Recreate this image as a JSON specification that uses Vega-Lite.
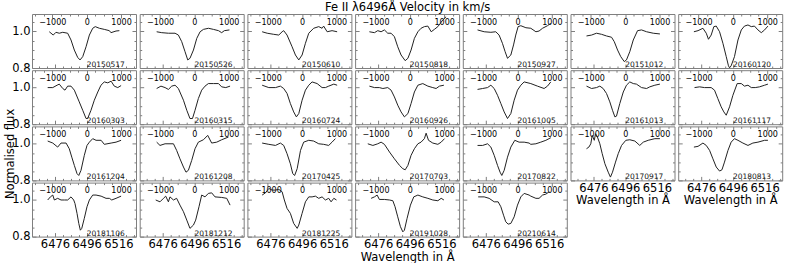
{
"$schema": "https://vega.github.io/schema/vega-lite/v6.json",
"padding": {"left": 3, "top": 1, "right": 0, "bottom": 1},
"columns": 7,
"bounds": "flush",
"spacing": {"row": 2.2, "column": 3.7},
"config": {
 "view": {"stroke": "#7f7f7f", "strokeWidth": 1},
 "font": "DejaVu Sans",
 "text": {"font": "DejaVu Sans"},
 "axis": {"domain": false, "grid": false, "tickColor": "#7f7f7f", "tickWidth": 1, "labelColor": "#000", "titleColor": "#000", "labelFont": "DejaVu Sans", "titleFont": "DejaVu Sans", "titleFontWeight": "normal", "labelOverlap": false, "labelFlush": false, "labelBound": false, "minExtent": 0, "maxExtent": 200},
 "axisBottom": {"labelFontSize": 11.5, "labelPadding": 6, "titleFontSize": 11.5, "titlePadding": -1},
 "axisLeft": {"labelFontSize": 11.5, "labelPadding": 6, "titleFontSize": 11.5, "titlePadding": -3.5},
 "axisTop": {"labelFontSize": 8, "labelPadding": -8, "titleFontSize": 11.5, "titlePadding": 1}
},
"concat": [
{"width":104,"height":54,"layer":[
 {"data":{"values":[{"w":6472.4,"f":0.998},{"w":6474.9,"f":0.980},{"w":6476.6,"f":0.995},{"w":6478.7,"f":0.990},{"w":6480.9,"f":0.995},{"w":6484.0,"f":0.990},{"w":6486.1,"f":0.953},{"w":6488.2,"f":0.898},{"w":6490.3,"f":0.858},{"w":6491.8,"f":0.844},{"w":6493.5,"f":0.862},{"w":6495.6,"f":0.916},{"w":6497.7,"f":0.980},{"w":6499.8,"f":1.017},{"w":6501.4,"f":1.026},{"w":6504.0,"f":1.017},{"w":6507.1,"f":1.011},{"w":6510.3,"f":1.004},{"w":6511.3,"f":0.993},{"w":6514.5,"f":1.002},{"w":6516.6,"f":1.004}]},
  "mark":{"type":"line","color":"#222","strokeWidth":1,"clip":true},
  "encoding":{"x":{"field":"w","type":"quantitative","scale":{"domain":[6461.5,6527.1],"nice":false,"zero":false},"axis":{"orient":"bottom","values":[6466,6471,6476,6481,6486,6491,6496,6501,6506,6511,6516,6521,6526],"tickSize":{"condition":{"test":"(datum.value-6476)%20===0","value":-4},"value":-2},"labels":false,"title":null}},
   "y":{"field":"f","type":"quantitative","scale":{"domain":[0.8,1.095],"nice":false,"zero":false},"axis":{"orient":"left","values":[0.8,0.85,0.9,0.95,1,1.05],"tickSize":{"condition":{"test":"datum.value===0.8||datum.value===1","value":-4},"value":-2},"format":".1f","labelExpr":"datum.value===0.8||datum.value===1 ? datum.label : ''","title":null}}}},
 {"data":{"values":[{"date":"20150517"}]},"mark":{"type":"text","align":"left","baseline":"alphabetic","fontSize":7.5,"color":"#111"},
  "encoding":{"x":{"datum":0,"type":"quantitative","scale":{"domain":[-1592.2,1435.3],"nice":false,"zero":false},"axis":{"orient":"top","values":[-1500,-1250,-1000,-750,-500,-250,0,250,500,750,1000,1250],"tickSize":{"condition":{"test":"datum.value%1000===0","value":-4},"value":-2},"format":"d","labelExpr":"datum.value%1000===0 ? datum.label : ''","title":null}},
   "y":{"datum":0.805,"type":"quantitative","scale":{"domain":[0.8,1.095],"nice":false,"zero":false},"axis":{"orient":"right","values":[0.8,0.85,0.9,0.95,1,1.05],"tickSize":{"condition":{"test":"datum.value===0.8||datum.value===1","value":-4},"value":-2},"labels":false,"title":null}},
   "text":{"field":"date","type":"nominal"}}}
],"resolve":{"scale":{"x":"independent","y":"independent"}}},
{"width":104,"height":54,"layer":[
 {"data":{"values":[{"w":6472.2,"f":0.998},{"w":6475.4,"f":0.993},{"w":6479.6,"f":0.990},{"w":6483.8,"f":0.990},{"w":6485.9,"f":0.980},{"w":6488.0,"f":0.944},{"w":6490.1,"f":0.889},{"w":6491.8,"f":0.844},{"w":6493.2,"f":0.853},{"w":6495.4,"f":0.898},{"w":6497.5,"f":0.962},{"w":6499.6,"f":0.998},{"w":6501.7,"f":1.011},{"w":6504.9,"f":1.017},{"w":6508.0,"f":1.011},{"w":6511.2,"f":1.004},{"w":6513.2,"f":0.993},{"w":6514.9,"f":1.004},{"w":6518.1,"f":1.008}]},
  "mark":{"type":"line","color":"#222","strokeWidth":1,"clip":true},
  "encoding":{"x":{"field":"w","type":"quantitative","scale":{"domain":[6461.5,6527.1],"nice":false,"zero":false},"axis":{"orient":"bottom","values":[6466,6471,6476,6481,6486,6491,6496,6501,6506,6511,6516,6521,6526],"tickSize":{"condition":{"test":"(datum.value-6476)%20===0","value":-4},"value":-2},"labels":false,"title":null}},
   "y":{"field":"f","type":"quantitative","scale":{"domain":[0.8,1.095],"nice":false,"zero":false},"axis":{"orient":"left","values":[0.8,0.85,0.9,0.95,1,1.05],"tickSize":{"condition":{"test":"datum.value===0.8||datum.value===1","value":-4},"value":-2},"labels":false,"title":null}}}},
 {"data":{"values":[{"date":"20150526"}]},"mark":{"type":"text","align":"left","baseline":"alphabetic","fontSize":7.5,"color":"#111"},
  "encoding":{"x":{"datum":0,"type":"quantitative","scale":{"domain":[-1592.2,1435.3],"nice":false,"zero":false},"axis":{"orient":"top","values":[-1500,-1250,-1000,-750,-500,-250,0,250,500,750,1000,1250],"tickSize":{"condition":{"test":"datum.value%1000===0","value":-4},"value":-2},"format":"d","labelExpr":"datum.value%1000===0 ? datum.label : ''","title":null}},
   "y":{"datum":0.805,"type":"quantitative","scale":{"domain":[0.8,1.095],"nice":false,"zero":false},"axis":{"orient":"right","values":[0.8,0.85,0.9,0.95,1,1.05],"tickSize":{"condition":{"test":"datum.value===0.8||datum.value===1","value":-4},"value":-2},"labels":false,"title":null}},
   "text":{"field":"date","type":"nominal"}}}
],"resolve":{"scale":{"x":"independent","y":"independent"}}},
{"width":104,"height":54,"layer":[
 {"data":{"values":[{"w":6470.8,"f":0.998},{"w":6474.0,"f":0.990},{"w":6478.1,"f":0.984},{"w":6481.3,"f":0.980},{"w":6483.4,"f":0.998},{"w":6484.4,"f":1.004},{"w":6486.5,"f":0.980},{"w":6489.7,"f":0.916},{"w":6491.8,"f":0.871},{"w":6493.9,"f":0.844},{"w":6496.0,"f":0.871},{"w":6498.1,"f":0.935},{"w":6500.2,"f":0.990},{"w":6503.3,"f":1.017},{"w":6506.5,"f":1.026},{"w":6508.6,"f":1.017},{"w":6509.6,"f":1.029},{"w":6511.8,"f":0.998},{"w":6514.9,"f":1.004},{"w":6518.1,"f":0.998}]},
  "mark":{"type":"line","color":"#222","strokeWidth":1,"clip":true},
  "encoding":{"x":{"field":"w","type":"quantitative","scale":{"domain":[6461.5,6527.1],"nice":false,"zero":false},"axis":{"orient":"bottom","values":[6466,6471,6476,6481,6486,6491,6496,6501,6506,6511,6516,6521,6526],"tickSize":{"condition":{"test":"(datum.value-6476)%20===0","value":-4},"value":-2},"labels":false,"title":null}},
   "y":{"field":"f","type":"quantitative","scale":{"domain":[0.8,1.095],"nice":false,"zero":false},"axis":{"orient":"left","values":[0.8,0.85,0.9,0.95,1,1.05],"tickSize":{"condition":{"test":"datum.value===0.8||datum.value===1","value":-4},"value":-2},"labels":false,"title":null}}}},
 {"data":{"values":[{"date":"20150610"}]},"mark":{"type":"text","align":"left","baseline":"alphabetic","fontSize":7.5,"color":"#111"},
  "encoding":{"x":{"datum":0,"type":"quantitative","scale":{"domain":[-1592.2,1435.3],"nice":false,"zero":false},"axis":{"orient":"top","values":[-1500,-1250,-1000,-750,-500,-250,0,250,500,750,1000,1250],"tickSize":{"condition":{"test":"datum.value%1000===0","value":-4},"value":-2},"format":"d","labelExpr":"datum.value%1000===0 ? datum.label : ''","title":null}},
   "y":{"datum":0.805,"type":"quantitative","scale":{"domain":[0.8,1.095],"nice":false,"zero":false},"axis":{"orient":"right","values":[0.8,0.85,0.9,0.95,1,1.05],"tickSize":{"condition":{"test":"datum.value===0.8||datum.value===1","value":-4},"value":-2},"labels":false,"title":null}},
   "text":{"field":"date","type":"nominal"}}}
],"resolve":{"scale":{"x":"independent","y":"independent"}}},
{"width":104,"height":54,"layer":[
 {"data":{"values":[{"w":6470.5,"f":0.998},{"w":6473.7,"f":0.993},{"w":6475.8,"f":1.004},{"w":6477.9,"f":0.998},{"w":6480.0,"f":1.008},{"w":6482.1,"f":0.990},{"w":6484.2,"f":0.990},{"w":6486.3,"f":0.971},{"w":6488.4,"f":0.916},{"w":6490.5,"f":0.871},{"w":6493.1,"f":0.840},{"w":6494.8,"f":0.853},{"w":6496.8,"f":0.898},{"w":6498.9,"f":0.962},{"w":6501.1,"f":0.998},{"w":6503.1,"f":1.017},{"w":6505.2,"f":1.026},{"w":6507.4,"f":1.029},{"w":6509.5,"f":0.998},{"w":6511.5,"f":1.011},{"w":6513.7,"f":1.026},{"w":6516.8,"f":1.062},{"w":6518.9,"f":1.080}]},
  "mark":{"type":"line","color":"#222","strokeWidth":1,"clip":true},
  "encoding":{"x":{"field":"w","type":"quantitative","scale":{"domain":[6461.5,6527.1],"nice":false,"zero":false},"axis":{"orient":"bottom","values":[6466,6471,6476,6481,6486,6491,6496,6501,6506,6511,6516,6521,6526],"tickSize":{"condition":{"test":"(datum.value-6476)%20===0","value":-4},"value":-2},"labels":false,"title":null}},
   "y":{"field":"f","type":"quantitative","scale":{"domain":[0.8,1.095],"nice":false,"zero":false},"axis":{"orient":"left","values":[0.8,0.85,0.9,0.95,1,1.05],"tickSize":{"condition":{"test":"datum.value===0.8||datum.value===1","value":-4},"value":-2},"labels":false,"title":null}}}},
 {"data":{"values":[{"date":"20150818"}]},"mark":{"type":"text","align":"left","baseline":"alphabetic","fontSize":7.5,"color":"#111"},
  "encoding":{"x":{"datum":0,"type":"quantitative","scale":{"domain":[-1592.2,1435.3],"nice":false,"zero":false},"axis":{"orient":"top","values":[-1500,-1250,-1000,-750,-500,-250,0,250,500,750,1000,1250],"tickSize":{"condition":{"test":"datum.value%1000===0","value":-4},"value":-2},"format":"d","labelExpr":"datum.value%1000===0 ? datum.label : ''","title":"Fe II λ6496Å  Velocity in km/s"}},
   "y":{"datum":0.805,"type":"quantitative","scale":{"domain":[0.8,1.095],"nice":false,"zero":false},"axis":{"orient":"right","values":[0.8,0.85,0.9,0.95,1,1.05],"tickSize":{"condition":{"test":"datum.value===0.8||datum.value===1","value":-4},"value":-2},"labels":false,"title":null}},
   "text":{"field":"date","type":"nominal"}}}
],"resolve":{"scale":{"x":"independent","y":"independent"}}},
{"width":104,"height":54,"layer":[
 {"data":{"values":[{"w":6470.8,"f":1.008},{"w":6475.0,"f":0.998},{"w":6479.2,"f":0.995},{"w":6482.3,"f":0.998},{"w":6484.4,"f":0.980},{"w":6486.5,"f":0.935},{"w":6488.2,"f":0.889},{"w":6489.7,"f":0.853},{"w":6491.8,"f":0.871},{"w":6493.5,"f":0.926},{"w":6494.9,"f":0.980},{"w":6496.4,"f":1.026},{"w":6498.1,"f":1.031},{"w":6501.3,"f":1.020},{"w":6504.4,"f":1.017},{"w":6507.6,"f":0.998},{"w":6509.6,"f":1.002},{"w":6511.8,"f":1.017},{"w":6514.9,"f":1.031},{"w":6517.0,"f":1.044}]},
  "mark":{"type":"line","color":"#222","strokeWidth":1,"clip":true},
  "encoding":{"x":{"field":"w","type":"quantitative","scale":{"domain":[6461.5,6527.1],"nice":false,"zero":false},"axis":{"orient":"bottom","values":[6466,6471,6476,6481,6486,6491,6496,6501,6506,6511,6516,6521,6526],"tickSize":{"condition":{"test":"(datum.value-6476)%20===0","value":-4},"value":-2},"labels":false,"title":null}},
   "y":{"field":"f","type":"quantitative","scale":{"domain":[0.8,1.095],"nice":false,"zero":false},"axis":{"orient":"left","values":[0.8,0.85,0.9,0.95,1,1.05],"tickSize":{"condition":{"test":"datum.value===0.8||datum.value===1","value":-4},"value":-2},"labels":false,"title":null}}}},
 {"data":{"values":[{"date":"20150927"}]},"mark":{"type":"text","align":"left","baseline":"alphabetic","fontSize":7.5,"color":"#111"},
  "encoding":{"x":{"datum":0,"type":"quantitative","scale":{"domain":[-1592.2,1435.3],"nice":false,"zero":false},"axis":{"orient":"top","values":[-1500,-1250,-1000,-750,-500,-250,0,250,500,750,1000,1250],"tickSize":{"condition":{"test":"datum.value%1000===0","value":-4},"value":-2},"format":"d","labelExpr":"datum.value%1000===0 ? datum.label : ''","title":null}},
   "y":{"datum":0.805,"type":"quantitative","scale":{"domain":[0.8,1.095],"nice":false,"zero":false},"axis":{"orient":"right","values":[0.8,0.85,0.9,0.95,1,1.05],"tickSize":{"condition":{"test":"datum.value===0.8||datum.value===1","value":-4},"value":-2},"labels":false,"title":null}},
   "text":{"field":"date","type":"nominal"}}}
],"resolve":{"scale":{"x":"independent","y":"independent"}}},
{"width":104,"height":54,"layer":[
 {"data":{"values":[{"w":6471.6,"f":0.975},{"w":6474.8,"f":0.980},{"w":6477.9,"f":0.990},{"w":6481.1,"f":0.984},{"w":6484.2,"f":0.975},{"w":6487.4,"f":0.968},{"w":6489.1,"f":0.944},{"w":6491.2,"f":0.898},{"w":6493.2,"f":0.862},{"w":6495.4,"f":0.835},{"w":6496.8,"f":0.844},{"w":6498.9,"f":0.889},{"w":6501.1,"f":0.953},{"w":6503.8,"f":1.004},{"w":6506.3,"f":1.008},{"w":6509.5,"f":0.998},{"w":6513.7,"f":0.990},{"w":6517.9,"f":0.986}]},
  "mark":{"type":"line","color":"#222","strokeWidth":1,"clip":true},
  "encoding":{"x":{"field":"w","type":"quantitative","scale":{"domain":[6461.5,6527.1],"nice":false,"zero":false},"axis":{"orient":"bottom","values":[6466,6471,6476,6481,6486,6491,6496,6501,6506,6511,6516,6521,6526],"tickSize":{"condition":{"test":"(datum.value-6476)%20===0","value":-4},"value":-2},"labels":false,"title":null}},
   "y":{"field":"f","type":"quantitative","scale":{"domain":[0.8,1.095],"nice":false,"zero":false},"axis":{"orient":"left","values":[0.8,0.85,0.9,0.95,1,1.05],"tickSize":{"condition":{"test":"datum.value===0.8||datum.value===1","value":-4},"value":-2},"labels":false,"title":null}}}},
 {"data":{"values":[{"date":"20151012"}]},"mark":{"type":"text","align":"left","baseline":"alphabetic","fontSize":7.5,"color":"#111"},
  "encoding":{"x":{"datum":0,"type":"quantitative","scale":{"domain":[-1592.2,1435.3],"nice":false,"zero":false},"axis":{"orient":"top","values":[-1500,-1250,-1000,-750,-500,-250,0,250,500,750,1000,1250],"tickSize":{"condition":{"test":"datum.value%1000===0","value":-4},"value":-2},"format":"d","labelExpr":"datum.value%1000===0 ? datum.label : ''","title":null}},
   "y":{"datum":0.805,"type":"quantitative","scale":{"domain":[0.8,1.095],"nice":false,"zero":false},"axis":{"orient":"right","values":[0.8,0.85,0.9,0.95,1,1.05],"tickSize":{"condition":{"test":"datum.value===0.8||datum.value===1","value":-4},"value":-2},"labels":false,"title":null}},
   "text":{"field":"date","type":"nominal"}}}
],"resolve":{"scale":{"x":"independent","y":"independent"}}},
{"width":104,"height":54,"layer":[
 {"data":{"values":[{"w":6471.4,"f":0.998},{"w":6474.0,"f":1.004},{"w":6477.1,"f":1.017},{"w":6479.2,"f":0.990},{"w":6480.6,"f":0.957},{"w":6482.3,"f":0.980},{"w":6484.0,"f":1.026},{"w":6485.5,"f":1.029},{"w":6487.6,"f":0.998},{"w":6489.7,"f":0.935},{"w":6491.8,"f":0.862},{"w":6493.2,"f":0.812},{"w":6493.9,"f":0.801},{"w":6494.9,"f":0.812},{"w":6497.0,"f":0.862},{"w":6499.2,"f":0.953},{"w":6501.3,"f":1.008},{"w":6503.3,"f":1.029},{"w":6505.5,"f":1.035},{"w":6507.6,"f":1.026},{"w":6509.6,"f":1.029},{"w":6511.8,"f":1.008},{"w":6513.9,"f":0.993},{"w":6516.0,"f":1.008},{"w":6518.1,"f":1.029}]},
  "mark":{"type":"line","color":"#222","strokeWidth":1,"clip":true},
  "encoding":{"x":{"field":"w","type":"quantitative","scale":{"domain":[6461.5,6527.1],"nice":false,"zero":false},"axis":{"orient":"bottom","values":[6466,6471,6476,6481,6486,6491,6496,6501,6506,6511,6516,6521,6526],"tickSize":{"condition":{"test":"(datum.value-6476)%20===0","value":-4},"value":-2},"labels":false,"title":null}},
   "y":{"field":"f","type":"quantitative","scale":{"domain":[0.8,1.095],"nice":false,"zero":false},"axis":{"orient":"left","values":[0.8,0.85,0.9,0.95,1,1.05],"tickSize":{"condition":{"test":"datum.value===0.8||datum.value===1","value":-4},"value":-2},"labels":false,"title":null}}}},
 {"data":{"values":[{"date":"20160120"}]},"mark":{"type":"text","align":"left","baseline":"alphabetic","fontSize":7.5,"color":"#111"},
  "encoding":{"x":{"datum":0,"type":"quantitative","scale":{"domain":[-1592.2,1435.3],"nice":false,"zero":false},"axis":{"orient":"top","values":[-1500,-1250,-1000,-750,-500,-250,0,250,500,750,1000,1250],"tickSize":{"condition":{"test":"datum.value%1000===0","value":-4},"value":-2},"format":"d","labelExpr":"datum.value%1000===0 ? datum.label : ''","title":null}},
   "y":{"datum":0.805,"type":"quantitative","scale":{"domain":[0.8,1.095],"nice":false,"zero":false},"axis":{"orient":"right","values":[0.8,0.85,0.9,0.95,1,1.05],"tickSize":{"condition":{"test":"datum.value===0.8||datum.value===1","value":-4},"value":-2},"labels":false,"title":null}},
   "text":{"field":"date","type":"nominal"}}}
],"resolve":{"scale":{"x":"independent","y":"independent"}}},
{"width":104,"height":54,"layer":[
 {"data":{"values":[{"w":6471.4,"f":1.0},{"w":6474.6,"f":1.0},{"w":6477.3,"f":1.013},{"w":6478.7,"f":1.019},{"w":6480.9,"f":0.995},{"w":6482.3,"f":0.986},{"w":6484.0,"f":1.008},{"w":6486.1,"f":1.008},{"w":6488.2,"f":0.986},{"w":6491.3,"f":0.922},{"w":6493.5,"f":0.876},{"w":6495.6,"f":0.831},{"w":6496.6,"f":0.831},{"w":6498.7,"f":0.876},{"w":6500.8,"f":0.931},{"w":6503.0,"f":0.976},{"w":6505.0,"f":1.013},{"w":6507.1,"f":1.031},{"w":6509.3,"f":1.026},{"w":6511.4,"f":1.035},{"w":6513.4,"f":1.008},{"w":6515.6,"f":1.0},{"w":6517.7,"f":1.011}]},
  "mark":{"type":"line","color":"#222","strokeWidth":1,"clip":true},
  "encoding":{"x":{"field":"w","type":"quantitative","scale":{"domain":[6461.5,6527.1],"nice":false,"zero":false},"axis":{"orient":"bottom","values":[6466,6471,6476,6481,6486,6491,6496,6501,6506,6511,6516,6521,6526],"tickSize":{"condition":{"test":"(datum.value-6476)%20===0","value":-4},"value":-2},"labels":false,"title":null}},
   "y":{"field":"f","type":"quantitative","scale":{"domain":[0.8,1.095],"nice":false,"zero":false},"axis":{"orient":"left","values":[0.8,0.85,0.9,0.95,1,1.05],"tickSize":{"condition":{"test":"datum.value===0.8||datum.value===1","value":-4},"value":-2},"format":".1f","labelExpr":"datum.value===0.8||datum.value===1 ? datum.label : ''","title":null}}}},
 {"data":{"values":[{"date":"20160303"}]},"mark":{"type":"text","align":"left","baseline":"alphabetic","fontSize":7.5,"color":"#111"},
  "encoding":{"x":{"datum":0,"type":"quantitative","scale":{"domain":[-1592.2,1435.3],"nice":false,"zero":false},"axis":{"orient":"top","values":[-1500,-1250,-1000,-750,-500,-250,0,250,500,750,1000,1250],"tickSize":{"condition":{"test":"datum.value%1000===0","value":-4},"value":-2},"format":"d","labelExpr":"datum.value%1000===0 ? datum.label : ''","title":null}},
   "y":{"datum":0.805,"type":"quantitative","scale":{"domain":[0.8,1.095],"nice":false,"zero":false},"axis":{"orient":"right","values":[0.8,0.85,0.9,0.95,1,1.05],"tickSize":{"condition":{"test":"datum.value===0.8||datum.value===1","value":-4},"value":-2},"labels":false,"title":null}},
   "text":{"field":"date","type":"nominal"}}}
],"resolve":{"scale":{"x":"independent","y":"independent"}}},
{"width":104,"height":54,"layer":[
 {"data":{"values":[{"w":6472.2,"f":0.995},{"w":6474.9,"f":1.008},{"w":6477.5,"f":1.0},{"w":6479.6,"f":0.990},{"w":6481.7,"f":1.008},{"w":6483.8,"f":1.013},{"w":6485.9,"f":0.995},{"w":6489.1,"f":0.931},{"w":6491.2,"f":0.876},{"w":6493.2,"f":0.831},{"w":6494.8,"f":0.831},{"w":6496.4,"f":0.876},{"w":6498.5,"f":0.940},{"w":6500.6,"f":0.986},{"w":6502.7,"f":1.008},{"w":6504.8,"f":1.022},{"w":6508.0,"f":1.022},{"w":6511.2,"f":1.022},{"w":6513.2,"f":1.004},{"w":6515.8,"f":1.0},{"w":6518.5,"f":1.008}]},
  "mark":{"type":"line","color":"#222","strokeWidth":1,"clip":true},
  "encoding":{"x":{"field":"w","type":"quantitative","scale":{"domain":[6461.5,6527.1],"nice":false,"zero":false},"axis":{"orient":"bottom","values":[6466,6471,6476,6481,6486,6491,6496,6501,6506,6511,6516,6521,6526],"tickSize":{"condition":{"test":"(datum.value-6476)%20===0","value":-4},"value":-2},"labels":false,"title":null}},
   "y":{"field":"f","type":"quantitative","scale":{"domain":[0.8,1.095],"nice":false,"zero":false},"axis":{"orient":"left","values":[0.8,0.85,0.9,0.95,1,1.05],"tickSize":{"condition":{"test":"datum.value===0.8||datum.value===1","value":-4},"value":-2},"labels":false,"title":null}}}},
 {"data":{"values":[{"date":"20160315"}]},"mark":{"type":"text","align":"left","baseline":"alphabetic","fontSize":7.5,"color":"#111"},
  "encoding":{"x":{"datum":0,"type":"quantitative","scale":{"domain":[-1592.2,1435.3],"nice":false,"zero":false},"axis":{"orient":"top","values":[-1500,-1250,-1000,-750,-500,-250,0,250,500,750,1000,1250],"tickSize":{"condition":{"test":"datum.value%1000===0","value":-4},"value":-2},"format":"d","labelExpr":"datum.value%1000===0 ? datum.label : ''","title":null}},
   "y":{"datum":0.805,"type":"quantitative","scale":{"domain":[0.8,1.095],"nice":false,"zero":false},"axis":{"orient":"right","values":[0.8,0.85,0.9,0.95,1,1.05],"tickSize":{"condition":{"test":"datum.value===0.8||datum.value===1","value":-4},"value":-2},"labels":false,"title":null}},
   "text":{"field":"date","type":"nominal"}}}
],"resolve":{"scale":{"x":"independent","y":"independent"}}},
{"width":104,"height":54,"layer":[
 {"data":{"values":[{"w":6470.8,"f":1.013},{"w":6475.0,"f":1.0},{"w":6479.2,"f":1.0},{"w":6482.3,"f":1.008},{"w":6484.4,"f":0.995},{"w":6486.5,"f":0.968},{"w":6488.6,"f":0.913},{"w":6490.7,"f":0.867},{"w":6492.4,"f":0.840},{"w":6493.9,"f":0.858},{"w":6496.0,"f":0.931},{"w":6498.1,"f":0.986},{"w":6500.2,"f":1.013},{"w":6502.3,"f":1.031},{"w":6505.5,"f":1.022},{"w":6508.6,"f":1.0},{"w":6510.7,"f":1.0},{"w":6512.8,"f":1.008},{"w":6516.0,"f":1.019},{"w":6518.1,"f":1.013}]},
  "mark":{"type":"line","color":"#222","strokeWidth":1,"clip":true},
  "encoding":{"x":{"field":"w","type":"quantitative","scale":{"domain":[6461.5,6527.1],"nice":false,"zero":false},"axis":{"orient":"bottom","values":[6466,6471,6476,6481,6486,6491,6496,6501,6506,6511,6516,6521,6526],"tickSize":{"condition":{"test":"(datum.value-6476)%20===0","value":-4},"value":-2},"labels":false,"title":null}},
   "y":{"field":"f","type":"quantitative","scale":{"domain":[0.8,1.095],"nice":false,"zero":false},"axis":{"orient":"left","values":[0.8,0.85,0.9,0.95,1,1.05],"tickSize":{"condition":{"test":"datum.value===0.8||datum.value===1","value":-4},"value":-2},"labels":false,"title":null}}}},
 {"data":{"values":[{"date":"20160724"}]},"mark":{"type":"text","align":"left","baseline":"alphabetic","fontSize":7.5,"color":"#111"},
  "encoding":{"x":{"datum":0,"type":"quantitative","scale":{"domain":[-1592.2,1435.3],"nice":false,"zero":false},"axis":{"orient":"top","values":[-1500,-1250,-1000,-750,-500,-250,0,250,500,750,1000,1250],"tickSize":{"condition":{"test":"datum.value%1000===0","value":-4},"value":-2},"format":"d","labelExpr":"datum.value%1000===0 ? datum.label : ''","title":null}},
   "y":{"datum":0.805,"type":"quantitative","scale":{"domain":[0.8,1.095],"nice":false,"zero":false},"axis":{"orient":"right","values":[0.8,0.85,0.9,0.95,1,1.05],"tickSize":{"condition":{"test":"datum.value===0.8||datum.value===1","value":-4},"value":-2},"labels":false,"title":null}},
   "text":{"field":"date","type":"nominal"}}}
],"resolve":{"scale":{"x":"independent","y":"independent"}}},
{"width":104,"height":54,"layer":[
 {"data":{"values":[{"w":6470.5,"f":1.008},{"w":6473.7,"f":1.0},{"w":6476.8,"f":1.0},{"w":6479.0,"f":0.995},{"w":6482.1,"f":1.0},{"w":6484.2,"f":0.986},{"w":6486.3,"f":0.949},{"w":6488.4,"f":0.904},{"w":6490.5,"f":0.867},{"w":6492.6,"f":0.840},{"w":6494.8,"f":0.858},{"w":6496.8,"f":0.913},{"w":6498.9,"f":0.976},{"w":6501.1,"f":1.013},{"w":6504.2,"f":1.022},{"w":6507.4,"f":1.008},{"w":6510.5,"f":1.0},{"w":6512.6,"f":0.995},{"w":6514.7,"f":1.008},{"w":6517.5,"f":1.013}]},
  "mark":{"type":"line","color":"#222","strokeWidth":1,"clip":true},
  "encoding":{"x":{"field":"w","type":"quantitative","scale":{"domain":[6461.5,6527.1],"nice":false,"zero":false},"axis":{"orient":"bottom","values":[6466,6471,6476,6481,6486,6491,6496,6501,6506,6511,6516,6521,6526],"tickSize":{"condition":{"test":"(datum.value-6476)%20===0","value":-4},"value":-2},"labels":false,"title":null}},
   "y":{"field":"f","type":"quantitative","scale":{"domain":[0.8,1.095],"nice":false,"zero":false},"axis":{"orient":"left","values":[0.8,0.85,0.9,0.95,1,1.05],"tickSize":{"condition":{"test":"datum.value===0.8||datum.value===1","value":-4},"value":-2},"labels":false,"title":null}}}},
 {"data":{"values":[{"date":"20160926"}]},"mark":{"type":"text","align":"left","baseline":"alphabetic","fontSize":7.5,"color":"#111"},
  "encoding":{"x":{"datum":0,"type":"quantitative","scale":{"domain":[-1592.2,1435.3],"nice":false,"zero":false},"axis":{"orient":"top","values":[-1500,-1250,-1000,-750,-500,-250,0,250,500,750,1000,1250],"tickSize":{"condition":{"test":"datum.value%1000===0","value":-4},"value":-2},"format":"d","labelExpr":"datum.value%1000===0 ? datum.label : ''","title":null}},
   "y":{"datum":0.805,"type":"quantitative","scale":{"domain":[0.8,1.095],"nice":false,"zero":false},"axis":{"orient":"right","values":[0.8,0.85,0.9,0.95,1,1.05],"tickSize":{"condition":{"test":"datum.value===0.8||datum.value===1","value":-4},"value":-2},"labels":false,"title":null}},
   "text":{"field":"date","type":"nominal"}}}
],"resolve":{"scale":{"x":"independent","y":"independent"}}},
{"width":104,"height":54,"layer":[
 {"data":{"values":[{"w":6470.8,"f":0.990},{"w":6474.0,"f":0.995},{"w":6477.1,"f":1.0},{"w":6479.2,"f":1.013},{"w":6481.3,"f":0.995},{"w":6483.4,"f":0.958},{"w":6485.5,"f":0.913},{"w":6487.6,"f":0.867},{"w":6489.7,"f":0.831},{"w":6491.8,"f":0.858},{"w":6493.9,"f":0.931},{"w":6496.0,"f":0.986},{"w":6498.1,"f":1.013},{"w":6500.2,"f":1.031},{"w":6504.4,"f":1.022},{"w":6508.6,"f":1.008},{"w":6512.8,"f":0.995},{"w":6514.9,"f":1.008},{"w":6517.0,"f":1.031}]},
  "mark":{"type":"line","color":"#222","strokeWidth":1,"clip":true},
  "encoding":{"x":{"field":"w","type":"quantitative","scale":{"domain":[6461.5,6527.1],"nice":false,"zero":false},"axis":{"orient":"bottom","values":[6466,6471,6476,6481,6486,6491,6496,6501,6506,6511,6516,6521,6526],"tickSize":{"condition":{"test":"(datum.value-6476)%20===0","value":-4},"value":-2},"labels":false,"title":null}},
   "y":{"field":"f","type":"quantitative","scale":{"domain":[0.8,1.095],"nice":false,"zero":false},"axis":{"orient":"left","values":[0.8,0.85,0.9,0.95,1,1.05],"tickSize":{"condition":{"test":"datum.value===0.8||datum.value===1","value":-4},"value":-2},"labels":false,"title":null}}}},
 {"data":{"values":[{"date":"20161005"}]},"mark":{"type":"text","align":"left","baseline":"alphabetic","fontSize":7.5,"color":"#111"},
  "encoding":{"x":{"datum":0,"type":"quantitative","scale":{"domain":[-1592.2,1435.3],"nice":false,"zero":false},"axis":{"orient":"top","values":[-1500,-1250,-1000,-750,-500,-250,0,250,500,750,1000,1250],"tickSize":{"condition":{"test":"datum.value%1000===0","value":-4},"value":-2},"format":"d","labelExpr":"datum.value%1000===0 ? datum.label : ''","title":null}},
   "y":{"datum":0.805,"type":"quantitative","scale":{"domain":[0.8,1.095],"nice":false,"zero":false},"axis":{"orient":"right","values":[0.8,0.85,0.9,0.95,1,1.05],"tickSize":{"condition":{"test":"datum.value===0.8||datum.value===1","value":-4},"value":-2},"labels":false,"title":null}},
   "text":{"field":"date","type":"nominal"}}}
],"resolve":{"scale":{"x":"independent","y":"independent"}}},
{"width":104,"height":54,"layer":[
 {"data":{"values":[{"w":6471.6,"f":1.008},{"w":6474.8,"f":0.995},{"w":6477.9,"f":1.0},{"w":6480.0,"f":1.008},{"w":6482.1,"f":0.995},{"w":6484.2,"f":0.968},{"w":6486.3,"f":0.922},{"w":6488.0,"f":0.876},{"w":6489.5,"f":0.840},{"w":6490.5,"f":0.844},{"w":6492.6,"f":0.913},{"w":6494.8,"f":0.976},{"w":6496.8,"f":1.013},{"w":6498.9,"f":1.031},{"w":6501.1,"f":1.022},{"w":6503.1,"f":1.019},{"w":6506.3,"f":1.0},{"w":6509.5,"f":0.995},{"w":6511.5,"f":1.004},{"w":6514.7,"f":1.013},{"w":6517.9,"f":1.019}]},
  "mark":{"type":"line","color":"#222","strokeWidth":1,"clip":true},
  "encoding":{"x":{"field":"w","type":"quantitative","scale":{"domain":[6461.5,6527.1],"nice":false,"zero":false},"axis":{"orient":"bottom","values":[6466,6471,6476,6481,6486,6491,6496,6501,6506,6511,6516,6521,6526],"tickSize":{"condition":{"test":"(datum.value-6476)%20===0","value":-4},"value":-2},"labels":false,"title":null}},
   "y":{"field":"f","type":"quantitative","scale":{"domain":[0.8,1.095],"nice":false,"zero":false},"axis":{"orient":"left","values":[0.8,0.85,0.9,0.95,1,1.05],"tickSize":{"condition":{"test":"datum.value===0.8||datum.value===1","value":-4},"value":-2},"labels":false,"title":null}}}},
 {"data":{"values":[{"date":"20161013"}]},"mark":{"type":"text","align":"left","baseline":"alphabetic","fontSize":7.5,"color":"#111"},
  "encoding":{"x":{"datum":0,"type":"quantitative","scale":{"domain":[-1592.2,1435.3],"nice":false,"zero":false},"axis":{"orient":"top","values":[-1500,-1250,-1000,-750,-500,-250,0,250,500,750,1000,1250],"tickSize":{"condition":{"test":"datum.value%1000===0","value":-4},"value":-2},"format":"d","labelExpr":"datum.value%1000===0 ? datum.label : ''","title":null}},
   "y":{"datum":0.805,"type":"quantitative","scale":{"domain":[0.8,1.095],"nice":false,"zero":false},"axis":{"orient":"right","values":[0.8,0.85,0.9,0.95,1,1.05],"tickSize":{"condition":{"test":"datum.value===0.8||datum.value===1","value":-4},"value":-2},"labels":false,"title":null}},
   "text":{"field":"date","type":"nominal"}}}
],"resolve":{"scale":{"x":"independent","y":"independent"}}},
{"width":104,"height":54,"layer":[
 {"data":{"values":[{"w":6471.8,"f":1.0},{"w":6475.0,"f":1.004},{"w":6478.1,"f":1.0},{"w":6482.3,"f":1.0},{"w":6484.4,"f":0.986},{"w":6486.5,"f":0.940},{"w":6488.6,"f":0.895},{"w":6490.3,"f":0.867},{"w":6491.8,"f":0.849},{"w":6493.9,"f":0.895},{"w":6496.0,"f":0.958},{"w":6498.7,"f":1.022},{"w":6501.3,"f":1.022},{"w":6503.3,"f":1.008},{"w":6505.5,"f":1.013},{"w":6507.6,"f":1.0},{"w":6510.1,"f":1.0},{"w":6512.8,"f":1.004},{"w":6516.0,"f":1.013},{"w":6518.1,"f":1.019}]},
  "mark":{"type":"line","color":"#222","strokeWidth":1,"clip":true},
  "encoding":{"x":{"field":"w","type":"quantitative","scale":{"domain":[6461.5,6527.1],"nice":false,"zero":false},"axis":{"orient":"bottom","values":[6466,6471,6476,6481,6486,6491,6496,6501,6506,6511,6516,6521,6526],"tickSize":{"condition":{"test":"(datum.value-6476)%20===0","value":-4},"value":-2},"labels":false,"title":null}},
   "y":{"field":"f","type":"quantitative","scale":{"domain":[0.8,1.095],"nice":false,"zero":false},"axis":{"orient":"left","values":[0.8,0.85,0.9,0.95,1,1.05],"tickSize":{"condition":{"test":"datum.value===0.8||datum.value===1","value":-4},"value":-2},"labels":false,"title":null}}}},
 {"data":{"values":[{"date":"20161117"}]},"mark":{"type":"text","align":"left","baseline":"alphabetic","fontSize":7.5,"color":"#111"},
  "encoding":{"x":{"datum":0,"type":"quantitative","scale":{"domain":[-1592.2,1435.3],"nice":false,"zero":false},"axis":{"orient":"top","values":[-1500,-1250,-1000,-750,-500,-250,0,250,500,750,1000,1250],"tickSize":{"condition":{"test":"datum.value%1000===0","value":-4},"value":-2},"format":"d","labelExpr":"datum.value%1000===0 ? datum.label : ''","title":null}},
   "y":{"datum":0.805,"type":"quantitative","scale":{"domain":[0.8,1.095],"nice":false,"zero":false},"axis":{"orient":"right","values":[0.8,0.85,0.9,0.95,1,1.05],"tickSize":{"condition":{"test":"datum.value===0.8||datum.value===1","value":-4},"value":-2},"labels":false,"title":null}},
   "text":{"field":"date","type":"nominal"}}}
],"resolve":{"scale":{"x":"independent","y":"independent"}}},
{"width":104,"height":54,"layer":[
 {"data":{"values":[{"w":6471.4,"f":1.015},{"w":6474.6,"f":1.004},{"w":6477.7,"f":0.982},{"w":6479.8,"f":1.004},{"w":6483.0,"f":1.004},{"w":6485.0,"f":0.973},{"w":6486.6,"f":0.927},{"w":6488.2,"f":0.882},{"w":6489.9,"f":0.837},{"w":6491.0,"f":0.827},{"w":6492.4,"f":0.855},{"w":6494.5,"f":0.937},{"w":6496.2,"f":0.991},{"w":6497.7,"f":1.009},{"w":6499.8,"f":1.028},{"w":6501.9,"f":1.019},{"w":6505.1,"f":1.019},{"w":6507.1,"f":0.997},{"w":6511.4,"f":1.004},{"w":6514.5,"f":1.009},{"w":6517.7,"f":1.019}]},
  "mark":{"type":"line","color":"#222","strokeWidth":1,"clip":true},
  "encoding":{"x":{"field":"w","type":"quantitative","scale":{"domain":[6461.5,6527.1],"nice":false,"zero":false},"axis":{"orient":"bottom","values":[6466,6471,6476,6481,6486,6491,6496,6501,6506,6511,6516,6521,6526],"tickSize":{"condition":{"test":"(datum.value-6476)%20===0","value":-4},"value":-2},"labels":false,"title":null}},
   "y":{"field":"f","type":"quantitative","scale":{"domain":[0.8,1.095],"nice":false,"zero":false},"axis":{"orient":"left","values":[0.8,0.85,0.9,0.95,1,1.05],"tickSize":{"condition":{"test":"datum.value===0.8||datum.value===1","value":-4},"value":-2},"format":".1f","labelExpr":"datum.value===0.8||datum.value===1 ? datum.label : ''","title":"Normalised flux"}}}},
 {"data":{"values":[{"date":"20161204"}]},"mark":{"type":"text","align":"left","baseline":"alphabetic","fontSize":7.5,"color":"#111"},
  "encoding":{"x":{"datum":0,"type":"quantitative","scale":{"domain":[-1592.2,1435.3],"nice":false,"zero":false},"axis":{"orient":"top","values":[-1500,-1250,-1000,-750,-500,-250,0,250,500,750,1000,1250],"tickSize":{"condition":{"test":"datum.value%1000===0","value":-4},"value":-2},"format":"d","labelExpr":"datum.value%1000===0 ? datum.label : ''","title":null}},
   "y":{"datum":0.805,"type":"quantitative","scale":{"domain":[0.8,1.095],"nice":false,"zero":false},"axis":{"orient":"right","values":[0.8,0.85,0.9,0.95,1,1.05],"tickSize":{"condition":{"test":"datum.value===0.8||datum.value===1","value":-4},"value":-2},"labels":false,"title":null}},
   "text":{"field":"date","type":"nominal"}}}
],"resolve":{"scale":{"x":"independent","y":"independent"}}},
{"width":104,"height":54,"layer":[
 {"data":{"values":[{"w":6472.2,"f":1.009},{"w":6474.3,"f":0.991},{"w":6477.5,"f":1.0},{"w":6482.8,"f":1.0},{"w":6484.8,"f":0.964},{"w":6486.9,"f":0.918},{"w":6489.1,"f":0.873},{"w":6490.7,"f":0.845},{"w":6492.2,"f":0.855},{"w":6494.3,"f":0.909},{"w":6496.4,"f":0.973},{"w":6498.5,"f":1.009},{"w":6501.7,"f":1.022},{"w":6504.4,"f":1.046},{"w":6506.9,"f":1.004},{"w":6510.1,"f":1.009},{"w":6513.2,"f":1.022},{"w":6517.5,"f":1.037}]},
  "mark":{"type":"line","color":"#222","strokeWidth":1,"clip":true},
  "encoding":{"x":{"field":"w","type":"quantitative","scale":{"domain":[6461.5,6527.1],"nice":false,"zero":false},"axis":{"orient":"bottom","values":[6466,6471,6476,6481,6486,6491,6496,6501,6506,6511,6516,6521,6526],"tickSize":{"condition":{"test":"(datum.value-6476)%20===0","value":-4},"value":-2},"labels":false,"title":null}},
   "y":{"field":"f","type":"quantitative","scale":{"domain":[0.8,1.095],"nice":false,"zero":false},"axis":{"orient":"left","values":[0.8,0.85,0.9,0.95,1,1.05],"tickSize":{"condition":{"test":"datum.value===0.8||datum.value===1","value":-4},"value":-2},"labels":false,"title":null}}}},
 {"data":{"values":[{"date":"20161208"}]},"mark":{"type":"text","align":"left","baseline":"alphabetic","fontSize":7.5,"color":"#111"},
  "encoding":{"x":{"datum":0,"type":"quantitative","scale":{"domain":[-1592.2,1435.3],"nice":false,"zero":false},"axis":{"orient":"top","values":[-1500,-1250,-1000,-750,-500,-250,0,250,500,750,1000,1250],"tickSize":{"condition":{"test":"datum.value%1000===0","value":-4},"value":-2},"format":"d","labelExpr":"datum.value%1000===0 ? datum.label : ''","title":null}},
   "y":{"datum":0.805,"type":"quantitative","scale":{"domain":[0.8,1.095],"nice":false,"zero":false},"axis":{"orient":"right","values":[0.8,0.85,0.9,0.95,1,1.05],"tickSize":{"condition":{"test":"datum.value===0.8||datum.value===1","value":-4},"value":-2},"labels":false,"title":null}},
   "text":{"field":"date","type":"nominal"}}}
],"resolve":{"scale":{"x":"independent","y":"independent"}}},
{"width":104,"height":54,"layer":[
 {"data":{"values":[{"w":6470.8,"f":1.004},{"w":6475.0,"f":0.997},{"w":6479.2,"f":0.991},{"w":6482.3,"f":1.004},{"w":6484.4,"f":0.991},{"w":6486.5,"f":0.946},{"w":6488.6,"f":0.891},{"w":6490.1,"f":0.837},{"w":6491.3,"f":0.827},{"w":6492.9,"f":0.864},{"w":6495.0,"f":0.964},{"w":6497.0,"f":1.009},{"w":6500.2,"f":1.019},{"w":6503.3,"f":1.015},{"w":6506.5,"f":1.0},{"w":6509.6,"f":0.997},{"w":6512.8,"f":0.991},{"w":6514.9,"f":1.009},{"w":6517.0,"f":1.028}]},
  "mark":{"type":"line","color":"#222","strokeWidth":1,"clip":true},
  "encoding":{"x":{"field":"w","type":"quantitative","scale":{"domain":[6461.5,6527.1],"nice":false,"zero":false},"axis":{"orient":"bottom","values":[6466,6471,6476,6481,6486,6491,6496,6501,6506,6511,6516,6521,6526],"tickSize":{"condition":{"test":"(datum.value-6476)%20===0","value":-4},"value":-2},"labels":false,"title":null}},
   "y":{"field":"f","type":"quantitative","scale":{"domain":[0.8,1.095],"nice":false,"zero":false},"axis":{"orient":"left","values":[0.8,0.85,0.9,0.95,1,1.05],"tickSize":{"condition":{"test":"datum.value===0.8||datum.value===1","value":-4},"value":-2},"labels":false,"title":null}}}},
 {"data":{"values":[{"date":"20170425"}]},"mark":{"type":"text","align":"left","baseline":"alphabetic","fontSize":7.5,"color":"#111"},
  "encoding":{"x":{"datum":0,"type":"quantitative","scale":{"domain":[-1592.2,1435.3],"nice":false,"zero":false},"axis":{"orient":"top","values":[-1500,-1250,-1000,-750,-500,-250,0,250,500,750,1000,1250],"tickSize":{"condition":{"test":"datum.value%1000===0","value":-4},"value":-2},"format":"d","labelExpr":"datum.value%1000===0 ? datum.label : ''","title":null}},
   "y":{"datum":0.805,"type":"quantitative","scale":{"domain":[0.8,1.095],"nice":false,"zero":false},"axis":{"orient":"right","values":[0.8,0.85,0.9,0.95,1,1.05],"tickSize":{"condition":{"test":"datum.value===0.8||datum.value===1","value":-4},"value":-2},"labels":false,"title":null}},
   "text":{"field":"date","type":"nominal"}}}
],"resolve":{"scale":{"x":"independent","y":"independent"}}},
{"width":104,"height":54,"layer":[
 {"data":{"values":[{"w":6469.5,"f":1.0},{"w":6472.7,"f":0.991},{"w":6475.8,"f":1.0},{"w":6477.9,"f":1.009},{"w":6480.0,"f":0.997},{"w":6483.2,"f":0.955},{"w":6486.3,"f":0.918},{"w":6489.5,"f":0.882},{"w":6491.6,"f":0.864},{"w":6493.1,"f":0.858},{"w":6494.8,"f":0.882},{"w":6496.8,"f":0.937},{"w":6498.9,"f":0.973},{"w":6501.1,"f":1.0},{"w":6503.1,"f":1.009},{"w":6505.2,"f":1.028},{"w":6506.3,"f":1.058},{"w":6507.8,"f":1.019},{"w":6510.5,"f":1.004},{"w":6513.7,"f":0.997},{"w":6515.8,"f":1.009},{"w":6517.9,"f":1.028}]},
  "mark":{"type":"line","color":"#222","strokeWidth":1,"clip":true},
  "encoding":{"x":{"field":"w","type":"quantitative","scale":{"domain":[6461.5,6527.1],"nice":false,"zero":false},"axis":{"orient":"bottom","values":[6466,6471,6476,6481,6486,6491,6496,6501,6506,6511,6516,6521,6526],"tickSize":{"condition":{"test":"(datum.value-6476)%20===0","value":-4},"value":-2},"labels":false,"title":null}},
   "y":{"field":"f","type":"quantitative","scale":{"domain":[0.8,1.095],"nice":false,"zero":false},"axis":{"orient":"left","values":[0.8,0.85,0.9,0.95,1,1.05],"tickSize":{"condition":{"test":"datum.value===0.8||datum.value===1","value":-4},"value":-2},"labels":false,"title":null}}}},
 {"data":{"values":[{"date":"20170703"}]},"mark":{"type":"text","align":"left","baseline":"alphabetic","fontSize":7.5,"color":"#111"},
  "encoding":{"x":{"datum":0,"type":"quantitative","scale":{"domain":[-1592.2,1435.3],"nice":false,"zero":false},"axis":{"orient":"top","values":[-1500,-1250,-1000,-750,-500,-250,0,250,500,750,1000,1250],"tickSize":{"condition":{"test":"datum.value%1000===0","value":-4},"value":-2},"format":"d","labelExpr":"datum.value%1000===0 ? datum.label : ''","title":null}},
   "y":{"datum":0.805,"type":"quantitative","scale":{"domain":[0.8,1.095],"nice":false,"zero":false},"axis":{"orient":"right","values":[0.8,0.85,0.9,0.95,1,1.05],"tickSize":{"condition":{"test":"datum.value===0.8||datum.value===1","value":-4},"value":-2},"labels":false,"title":null}},
   "text":{"field":"date","type":"nominal"}}}
],"resolve":{"scale":{"x":"independent","y":"independent"}}},
{"width":104,"height":54,"layer":[
 {"data":{"values":[{"w":6470.8,"f":0.991},{"w":6474.0,"f":0.991},{"w":6477.1,"f":1.0},{"w":6479.2,"f":0.982},{"w":6481.3,"f":0.937},{"w":6483.4,"f":0.882},{"w":6485.0,"f":0.845},{"w":6486.1,"f":0.827},{"w":6487.6,"f":0.855},{"w":6489.7,"f":0.927},{"w":6491.8,"f":0.982},{"w":6494.3,"f":1.019},{"w":6497.0,"f":1.009},{"w":6500.2,"f":1.009},{"w":6503.3,"f":1.004},{"w":6504.4,"f":0.997},{"w":6507.6,"f":1.0},{"w":6510.7,"f":1.009},{"w":6513.9,"f":1.019},{"w":6517.0,"f":1.033}]},
  "mark":{"type":"line","color":"#222","strokeWidth":1,"clip":true},
  "encoding":{"x":{"field":"w","type":"quantitative","scale":{"domain":[6461.5,6527.1],"nice":false,"zero":false},"axis":{"orient":"bottom","values":[6466,6471,6476,6481,6486,6491,6496,6501,6506,6511,6516,6521,6526],"tickSize":{"condition":{"test":"(datum.value-6476)%20===0","value":-4},"value":-2},"labels":false,"title":null}},
   "y":{"field":"f","type":"quantitative","scale":{"domain":[0.8,1.095],"nice":false,"zero":false},"axis":{"orient":"left","values":[0.8,0.85,0.9,0.95,1,1.05],"tickSize":{"condition":{"test":"datum.value===0.8||datum.value===1","value":-4},"value":-2},"labels":false,"title":null}}}},
 {"data":{"values":[{"date":"20170822"}]},"mark":{"type":"text","align":"left","baseline":"alphabetic","fontSize":7.5,"color":"#111"},
  "encoding":{"x":{"datum":0,"type":"quantitative","scale":{"domain":[-1592.2,1435.3],"nice":false,"zero":false},"axis":{"orient":"top","values":[-1500,-1250,-1000,-750,-500,-250,0,250,500,750,1000,1250],"tickSize":{"condition":{"test":"datum.value%1000===0","value":-4},"value":-2},"format":"d","labelExpr":"datum.value%1000===0 ? datum.label : ''","title":null}},
   "y":{"datum":0.805,"type":"quantitative","scale":{"domain":[0.8,1.095],"nice":false,"zero":false},"axis":{"orient":"right","values":[0.8,0.85,0.9,0.95,1,1.05],"tickSize":{"condition":{"test":"datum.value===0.8||datum.value===1","value":-4},"value":-2},"labels":false,"title":null}},
   "text":{"field":"date","type":"nominal"}}}
],"resolve":{"scale":{"x":"independent","y":"independent"}}},
{"width":104,"height":54,"layer":[
 {"data":{"values":[{"w":6471.6,"f":0.973},{"w":6473.1,"f":0.982},{"w":6474.3,"f":1.0},{"w":6475.2,"f":1.046},{"w":6476.5,"f":1.019},{"w":6477.3,"f":1.055},{"w":6478.5,"f":1.037},{"w":6480.0,"f":1.0},{"w":6481.5,"f":0.946},{"w":6483.2,"f":0.891},{"w":6485.3,"f":0.845},{"w":6486.7,"f":0.818},{"w":6488.0,"f":0.845},{"w":6489.9,"f":0.900},{"w":6491.6,"f":0.946},{"w":6493.7,"f":0.991},{"w":6496.4,"f":1.019},{"w":6498.9,"f":1.022},{"w":6502.1,"f":1.015},{"w":6505.2,"f":0.991},{"w":6507.4,"f":1.009},{"w":6510.5,"f":1.019},{"w":6514.7,"f":1.028},{"w":6517.9,"f":1.028}]},
  "mark":{"type":"line","color":"#222","strokeWidth":1,"clip":true},
  "encoding":{"x":{"field":"w","type":"quantitative","scale":{"domain":[6461.5,6527.1],"nice":false,"zero":false},"axis":{"orient":"bottom","values":[6466,6471,6476,6481,6486,6491,6496,6501,6506,6511,6516,6521,6526],"tickSize":{"condition":{"test":"(datum.value-6476)%20===0","value":-4},"value":-2},"format":"d","labelExpr":"(datum.value-6476)%20===0 ? datum.label : ''","title":"Wavelength in Å"}},
   "y":{"field":"f","type":"quantitative","scale":{"domain":[0.8,1.095],"nice":false,"zero":false},"axis":{"orient":"left","values":[0.8,0.85,0.9,0.95,1,1.05],"tickSize":{"condition":{"test":"datum.value===0.8||datum.value===1","value":-4},"value":-2},"labels":false,"title":null}}}},
 {"data":{"values":[{"date":"20170917"}]},"mark":{"type":"text","align":"left","baseline":"alphabetic","fontSize":7.5,"color":"#111"},
  "encoding":{"x":{"datum":0,"type":"quantitative","scale":{"domain":[-1592.2,1435.3],"nice":false,"zero":false},"axis":{"orient":"top","values":[-1500,-1250,-1000,-750,-500,-250,0,250,500,750,1000,1250],"tickSize":{"condition":{"test":"datum.value%1000===0","value":-4},"value":-2},"format":"d","labelExpr":"datum.value%1000===0 ? datum.label : ''","title":null}},
   "y":{"datum":0.805,"type":"quantitative","scale":{"domain":[0.8,1.095],"nice":false,"zero":false},"axis":{"orient":"right","values":[0.8,0.85,0.9,0.95,1,1.05],"tickSize":{"condition":{"test":"datum.value===0.8||datum.value===1","value":-4},"value":-2},"labels":false,"title":null}},
   "text":{"field":"date","type":"nominal"}}}
],"resolve":{"scale":{"x":"independent","y":"independent"}}},
{"width":104,"height":54,"layer":[
 {"data":{"values":[{"w":6471.4,"f":0.982},{"w":6474.0,"f":0.986},{"w":6477.1,"f":1.004},{"w":6479.2,"f":0.991},{"w":6481.3,"f":0.964},{"w":6483.4,"f":0.918},{"w":6485.5,"f":0.873},{"w":6487.6,"f":0.851},{"w":6489.1,"f":0.858},{"w":6490.7,"f":0.900},{"w":6492.9,"f":0.964},{"w":6494.9,"f":1.009},{"w":6497.0,"f":1.028},{"w":6499.2,"f":1.019},{"w":6502.3,"f":1.004},{"w":6505.5,"f":0.991},{"w":6508.6,"f":1.004},{"w":6511.8,"f":1.009},{"w":6516.0,"f":1.019},{"w":6518.1,"f":1.019}]},
  "mark":{"type":"line","color":"#222","strokeWidth":1,"clip":true},
  "encoding":{"x":{"field":"w","type":"quantitative","scale":{"domain":[6461.5,6527.1],"nice":false,"zero":false},"axis":{"orient":"bottom","values":[6466,6471,6476,6481,6486,6491,6496,6501,6506,6511,6516,6521,6526],"tickSize":{"condition":{"test":"(datum.value-6476)%20===0","value":-4},"value":-2},"format":"d","labelExpr":"(datum.value-6476)%20===0 ? datum.label : ''","title":"Wavelength in Å"}},
   "y":{"field":"f","type":"quantitative","scale":{"domain":[0.8,1.095],"nice":false,"zero":false},"axis":{"orient":"left","values":[0.8,0.85,0.9,0.95,1,1.05],"tickSize":{"condition":{"test":"datum.value===0.8||datum.value===1","value":-4},"value":-2},"labels":false,"title":null}}}},
 {"data":{"values":[{"date":"20180813"}]},"mark":{"type":"text","align":"left","baseline":"alphabetic","fontSize":7.5,"color":"#111"},
  "encoding":{"x":{"datum":0,"type":"quantitative","scale":{"domain":[-1592.2,1435.3],"nice":false,"zero":false},"axis":{"orient":"top","values":[-1500,-1250,-1000,-750,-500,-250,0,250,500,750,1000,1250],"tickSize":{"condition":{"test":"datum.value%1000===0","value":-4},"value":-2},"format":"d","labelExpr":"datum.value%1000===0 ? datum.label : ''","title":null}},
   "y":{"datum":0.805,"type":"quantitative","scale":{"domain":[0.8,1.095],"nice":false,"zero":false},"axis":{"orient":"right","values":[0.8,0.85,0.9,0.95,1,1.05],"tickSize":{"condition":{"test":"datum.value===0.8||datum.value===1","value":-4},"value":-2},"labels":false,"title":null}},
   "text":{"field":"date","type":"nominal"}}}
],"resolve":{"scale":{"x":"independent","y":"independent"}}},
{"width":104,"height":54,"layer":[
 {"data":{"values":[{"w":6471.4,"f":1.0},{"w":6473.1,"f":1.017},{"w":6474.6,"f":1.027},{"w":6475.6,"f":1.0},{"w":6477.7,"f":1.009},{"w":6479.8,"f":1.0},{"w":6481.9,"f":1.0},{"w":6484.0,"f":1.0},{"w":6486.1,"f":1.017},{"w":6487.8,"f":1.0},{"w":6488.6,"f":0.981},{"w":6489.9,"f":0.927},{"w":6491.0,"f":0.872},{"w":6492.0,"f":0.835},{"w":6492.9,"f":0.845},{"w":6494.5,"f":0.900},{"w":6496.2,"f":0.963},{"w":6497.7,"f":1.0},{"w":6499.8,"f":1.027},{"w":6501.9,"f":1.027},{"w":6505.1,"f":1.021},{"w":6508.2,"f":1.009},{"w":6510.3,"f":1.009},{"w":6511.8,"f":1.0},{"w":6514.5,"f":1.009},{"w":6517.7,"f":1.021}]},
  "mark":{"type":"line","color":"#222","strokeWidth":1,"clip":true},
  "encoding":{"x":{"field":"w","type":"quantitative","scale":{"domain":[6461.5,6527.1],"nice":false,"zero":false},"axis":{"orient":"bottom","values":[6466,6471,6476,6481,6486,6491,6496,6501,6506,6511,6516,6521,6526],"tickSize":{"condition":{"test":"(datum.value-6476)%20===0","value":-4},"value":-2},"format":"d","labelExpr":"(datum.value-6476)%20===0 ? datum.label : ''","title":null}},
   "y":{"field":"f","type":"quantitative","scale":{"domain":[0.8,1.095],"nice":false,"zero":false},"axis":{"orient":"left","values":[0.8,0.85,0.9,0.95,1,1.05],"tickSize":{"condition":{"test":"datum.value===0.8||datum.value===1","value":-4},"value":-2},"format":".1f","labelExpr":"datum.value===0.8||datum.value===1 ? datum.label : ''","title":null}}}},
 {"data":{"values":[{"date":"20181106"}]},"mark":{"type":"text","align":"left","baseline":"alphabetic","fontSize":7.5,"color":"#111"},
  "encoding":{"x":{"datum":0,"type":"quantitative","scale":{"domain":[-1592.2,1435.3],"nice":false,"zero":false},"axis":{"orient":"top","values":[-1500,-1250,-1000,-750,-500,-250,0,250,500,750,1000,1250],"tickSize":{"condition":{"test":"datum.value%1000===0","value":-4},"value":-2},"format":"d","labelExpr":"datum.value%1000===0 ? datum.label : ''","title":null}},
   "y":{"datum":0.805,"type":"quantitative","scale":{"domain":[0.8,1.095],"nice":false,"zero":false},"axis":{"orient":"right","values":[0.8,0.85,0.9,0.95,1,1.05],"tickSize":{"condition":{"test":"datum.value===0.8||datum.value===1","value":-4},"value":-2},"labels":false,"title":null}},
   "text":{"field":"date","type":"nominal"}}}
],"resolve":{"scale":{"x":"independent","y":"independent"}}},
{"width":104,"height":54,"layer":[
 {"data":{"values":[{"w":6471.6,"f":1.0},{"w":6474.3,"f":0.990},{"w":6476.5,"f":1.009},{"w":6477.9,"f":1.021},{"w":6479.6,"f":0.990},{"w":6480.6,"f":1.017},{"w":6482.8,"f":1.0},{"w":6484.8,"f":1.009},{"w":6486.9,"f":0.972},{"w":6489.1,"f":0.936},{"w":6491.2,"f":0.890},{"w":6493.2,"f":0.845},{"w":6495.4,"f":0.863},{"w":6496.8,"f":0.890},{"w":6498.9,"f":0.963},{"w":6500.6,"f":1.027},{"w":6502.7,"f":1.017},{"w":6504.8,"f":1.036},{"w":6506.9,"f":1.039},{"w":6509.0,"f":1.017},{"w":6513.2,"f":1.014},{"w":6516.4,"f":1.009},{"w":6518.5,"f":0.972}]},
  "mark":{"type":"line","color":"#222","strokeWidth":1,"clip":true},
  "encoding":{"x":{"field":"w","type":"quantitative","scale":{"domain":[6461.5,6527.1],"nice":false,"zero":false},"axis":{"orient":"bottom","values":[6466,6471,6476,6481,6486,6491,6496,6501,6506,6511,6516,6521,6526],"tickSize":{"condition":{"test":"(datum.value-6476)%20===0","value":-4},"value":-2},"format":"d","labelExpr":"(datum.value-6476)%20===0 ? datum.label : ''","title":null}},
   "y":{"field":"f","type":"quantitative","scale":{"domain":[0.8,1.095],"nice":false,"zero":false},"axis":{"orient":"left","values":[0.8,0.85,0.9,0.95,1,1.05],"tickSize":{"condition":{"test":"datum.value===0.8||datum.value===1","value":-4},"value":-2},"labels":false,"title":null}}}},
 {"data":{"values":[{"date":"20181212"}]},"mark":{"type":"text","align":"left","baseline":"alphabetic","fontSize":7.5,"color":"#111"},
  "encoding":{"x":{"datum":0,"type":"quantitative","scale":{"domain":[-1592.2,1435.3],"nice":false,"zero":false},"axis":{"orient":"top","values":[-1500,-1250,-1000,-750,-500,-250,0,250,500,750,1000,1250],"tickSize":{"condition":{"test":"datum.value%1000===0","value":-4},"value":-2},"format":"d","labelExpr":"datum.value%1000===0 ? datum.label : ''","title":null}},
   "y":{"datum":0.805,"type":"quantitative","scale":{"domain":[0.8,1.095],"nice":false,"zero":false},"axis":{"orient":"right","values":[0.8,0.85,0.9,0.95,1,1.05],"tickSize":{"condition":{"test":"datum.value===0.8||datum.value===1","value":-4},"value":-2},"labels":false,"title":null}},
   "text":{"field":"date","type":"nominal"}}}
],"resolve":{"scale":{"x":"independent","y":"independent"}}},
{"width":104,"height":54,"layer":[
 {"data":{"values":[{"w":6470.8,"f":1.027},{"w":6472.9,"f":1.039},{"w":6475.0,"f":1.063},{"w":6477.1,"f":1.054},{"w":6479.2,"f":1.054},{"w":6481.3,"f":1.058},{"w":6483.4,"f":1.045},{"w":6484.8,"f":1.0},{"w":6486.5,"f":0.954},{"w":6488.6,"f":0.927},{"w":6490.7,"f":0.872},{"w":6492.9,"f":0.845},{"w":6493.9,"f":0.863},{"w":6496.0,"f":0.927},{"w":6498.1,"f":0.990},{"w":6500.2,"f":1.017},{"w":6502.3,"f":1.017},{"w":6504.4,"f":1.021},{"w":6506.5,"f":1.009},{"w":6508.6,"f":1.017},{"w":6510.7,"f":1.0},{"w":6512.8,"f":1.009},{"w":6514.3,"f":0.990},{"w":6516.0,"f":1.009},{"w":6517.7,"f":1.0}]},
  "mark":{"type":"line","color":"#222","strokeWidth":1,"clip":true},
  "encoding":{"x":{"field":"w","type":"quantitative","scale":{"domain":[6461.5,6527.1],"nice":false,"zero":false},"axis":{"orient":"bottom","values":[6466,6471,6476,6481,6486,6491,6496,6501,6506,6511,6516,6521,6526],"tickSize":{"condition":{"test":"(datum.value-6476)%20===0","value":-4},"value":-2},"format":"d","labelExpr":"(datum.value-6476)%20===0 ? datum.label : ''","title":null}},
   "y":{"field":"f","type":"quantitative","scale":{"domain":[0.8,1.095],"nice":false,"zero":false},"axis":{"orient":"left","values":[0.8,0.85,0.9,0.95,1,1.05],"tickSize":{"condition":{"test":"datum.value===0.8||datum.value===1","value":-4},"value":-2},"labels":false,"title":null}}}},
 {"data":{"values":[{"date":"20181225"}]},"mark":{"type":"text","align":"left","baseline":"alphabetic","fontSize":7.5,"color":"#111"},
  "encoding":{"x":{"datum":0,"type":"quantitative","scale":{"domain":[-1592.2,1435.3],"nice":false,"zero":false},"axis":{"orient":"top","values":[-1500,-1250,-1000,-750,-500,-250,0,250,500,750,1000,1250],"tickSize":{"condition":{"test":"datum.value%1000===0","value":-4},"value":-2},"format":"d","labelExpr":"datum.value%1000===0 ? datum.label : ''","title":null}},
   "y":{"datum":0.805,"type":"quantitative","scale":{"domain":[0.8,1.095],"nice":false,"zero":false},"axis":{"orient":"right","values":[0.8,0.85,0.9,0.95,1,1.05],"tickSize":{"condition":{"test":"datum.value===0.8||datum.value===1","value":-4},"value":-2},"labels":false,"title":null}},
   "text":{"field":"date","type":"nominal"}}}
],"resolve":{"scale":{"x":"independent","y":"independent"}}},
{"width":104,"height":54,"layer":[
 {"data":{"values":[{"w":6471.6,"f":1.009},{"w":6473.7,"f":1.017},{"w":6475.4,"f":1.027},{"w":6476.8,"f":1.003},{"w":6480.0,"f":1.003},{"w":6483.2,"f":1.0},{"w":6485.3,"f":0.996},{"w":6486.7,"f":0.963},{"w":6488.4,"f":0.908},{"w":6490.1,"f":0.854},{"w":6491.6,"f":0.826},{"w":6492.6,"f":0.835},{"w":6494.3,"f":0.900},{"w":6496.4,"f":0.972},{"w":6498.5,"f":1.017},{"w":6501.1,"f":1.027},{"w":6504.2,"f":1.017},{"w":6507.4,"f":1.009},{"w":6510.5,"f":1.0},{"w":6513.7,"f":0.996},{"w":6515.8,"f":1.009},{"w":6517.5,"f":1.0}]},
  "mark":{"type":"line","color":"#222","strokeWidth":1,"clip":true},
  "encoding":{"x":{"field":"w","type":"quantitative","scale":{"domain":[6461.5,6527.1],"nice":false,"zero":false},"axis":{"orient":"bottom","values":[6466,6471,6476,6481,6486,6491,6496,6501,6506,6511,6516,6521,6526],"tickSize":{"condition":{"test":"(datum.value-6476)%20===0","value":-4},"value":-2},"format":"d","labelExpr":"(datum.value-6476)%20===0 ? datum.label : ''","title":"Wavelength in Å"}},
   "y":{"field":"f","type":"quantitative","scale":{"domain":[0.8,1.095],"nice":false,"zero":false},"axis":{"orient":"left","values":[0.8,0.85,0.9,0.95,1,1.05],"tickSize":{"condition":{"test":"datum.value===0.8||datum.value===1","value":-4},"value":-2},"labels":false,"title":null}}}},
 {"data":{"values":[{"date":"20191028"}]},"mark":{"type":"text","align":"left","baseline":"alphabetic","fontSize":7.5,"color":"#111"},
  "encoding":{"x":{"datum":0,"type":"quantitative","scale":{"domain":[-1592.2,1435.3],"nice":false,"zero":false},"axis":{"orient":"top","values":[-1500,-1250,-1000,-750,-500,-250,0,250,500,750,1000,1250],"tickSize":{"condition":{"test":"datum.value%1000===0","value":-4},"value":-2},"format":"d","labelExpr":"datum.value%1000===0 ? datum.label : ''","title":null}},
   "y":{"datum":0.805,"type":"quantitative","scale":{"domain":[0.8,1.095],"nice":false,"zero":false},"axis":{"orient":"right","values":[0.8,0.85,0.9,0.95,1,1.05],"tickSize":{"condition":{"test":"datum.value===0.8||datum.value===1","value":-4},"value":-2},"labels":false,"title":null}},
   "text":{"field":"date","type":"nominal"}}}
],"resolve":{"scale":{"x":"independent","y":"independent"}}},
{"width":104,"height":54,"layer":[
 {"data":{"values":[{"w":6471.2,"f":1.017},{"w":6475.0,"f":1.017},{"w":6478.1,"f":1.009},{"w":6481.3,"f":0.990},{"w":6483.8,"f":0.990},{"w":6485.5,"f":0.963},{"w":6487.2,"f":0.917},{"w":6488.6,"f":0.881},{"w":6490.1,"f":0.868},{"w":6491.8,"f":0.872},{"w":6493.9,"f":0.908},{"w":6496.0,"f":0.972},{"w":6498.1,"f":1.017},{"w":6500.2,"f":1.036},{"w":6503.3,"f":1.027},{"w":6504.4,"f":1.021},{"w":6507.6,"f":1.009},{"w":6509.6,"f":1.009},{"w":6511.8,"f":1.027},{"w":6513.9,"f":1.032},{"w":6516.0,"f":1.045}]},
  "mark":{"type":"line","color":"#222","strokeWidth":1,"clip":true},
  "encoding":{"x":{"field":"w","type":"quantitative","scale":{"domain":[6461.5,6527.1],"nice":false,"zero":false},"axis":{"orient":"bottom","values":[6466,6471,6476,6481,6486,6491,6496,6501,6506,6511,6516,6521,6526],"tickSize":{"condition":{"test":"(datum.value-6476)%20===0","value":-4},"value":-2},"format":"d","labelExpr":"(datum.value-6476)%20===0 ? datum.label : ''","title":null}},
   "y":{"field":"f","type":"quantitative","scale":{"domain":[0.8,1.095],"nice":false,"zero":false},"axis":{"orient":"left","values":[0.8,0.85,0.9,0.95,1,1.05],"tickSize":{"condition":{"test":"datum.value===0.8||datum.value===1","value":-4},"value":-2},"labels":false,"title":null}}}},
 {"data":{"values":[{"date":"20210614"}]},"mark":{"type":"text","align":"left","baseline":"alphabetic","fontSize":7.5,"color":"#111"},
  "encoding":{"x":{"datum":0,"type":"quantitative","scale":{"domain":[-1592.2,1435.3],"nice":false,"zero":false},"axis":{"orient":"top","values":[-1500,-1250,-1000,-750,-500,-250,0,250,500,750,1000,1250],"tickSize":{"condition":{"test":"datum.value%1000===0","value":-4},"value":-2},"format":"d","labelExpr":"datum.value%1000===0 ? datum.label : ''","title":null}},
   "y":{"datum":0.805,"type":"quantitative","scale":{"domain":[0.8,1.095],"nice":false,"zero":false},"axis":{"orient":"right","values":[0.8,0.85,0.9,0.95,1,1.05],"tickSize":{"condition":{"test":"datum.value===0.8||datum.value===1","value":-4},"value":-2},"labels":false,"title":null}},
   "text":{"field":"date","type":"nominal"}}}
],"resolve":{"scale":{"x":"independent","y":"independent"}}}
]
}
